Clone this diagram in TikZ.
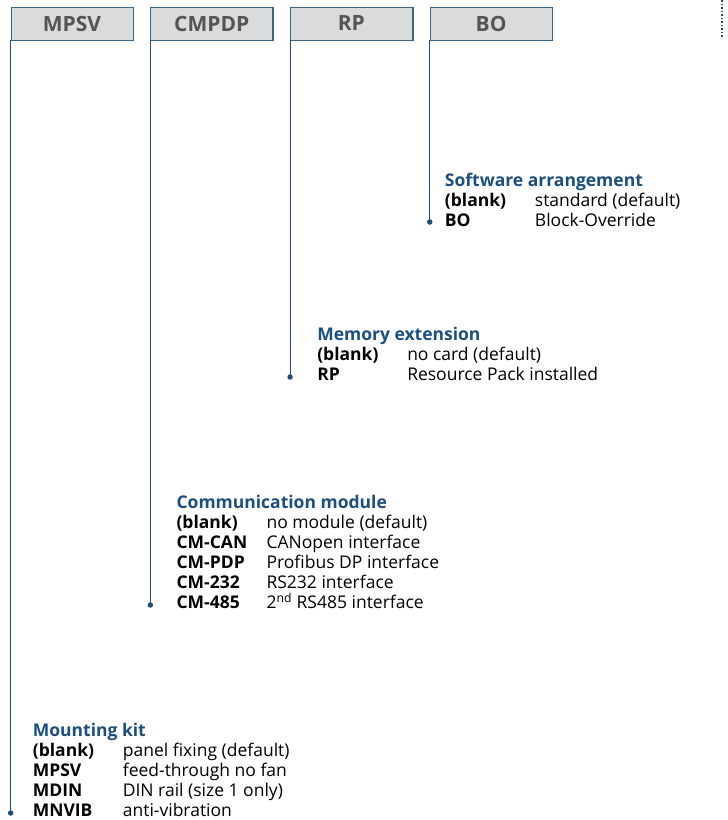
\documentclass[tikz,border=0pt]{standalone}
\usepackage{fontspec}
\setmainfont{Open Sans}
\usetikzlibrary{positioning}
\definecolor{lineblue}{HTML}{1F4E79}
\definecolor{edgeblue}{HTML}{3A6688}
\definecolor{headblue}{HTML}{1B4F7F}
\definecolor{boxgray}{HTML}{DADBDD}
\definecolor{textgray}{HTML}{555555}
\tikzstyle{codebox} = [rectangle, minimum width=122pt, minimum height=33pt, inner sep=0pt, text centered, draw=edgeblue, line width=0.7pt, fill=boxgray, text=textgray, font=\fontsize{21}{24}\selectfont\bfseries]
\tikzstyle{shade} = [draw=edgeblue, line width=1.6pt]
\tikzstyle{lead} = [draw=lineblue, line width=1.1pt]
\tikzstyle{enddot} = [circle, fill=lineblue, inner sep=0pt, minimum size=5.5pt]
\tikzstyle{options} = [anchor=north west, inner sep=0pt, align=left, font=\fontsize{17.5}{20}\selectfont]
\newcommand{\opthead}[1]{{\color{headblue}\bfseries #1}}
\newcommand{\optrow}[2]{\makebox[90pt][l]{\bfseries #1}#2}

\begin{document}
\begin{tikzpicture}[x=1pt,y=-1pt]
        \useasboundingbox (0,0) rectangle (728,820);
        %order code boxes
        \node (MPSV) [codebox] at (72,23.5) {MPSV};
        \node (CMPDP) [codebox, right=17pt of MPSV] {CMPDP};
        \node (RP) [codebox, right=17pt of CMPDP] {RP};
        \node (BO) [codebox, right=17pt of RP] {BO};
        %darker lower and right edges
        \draw [shade] (MPSV.north east) -- (MPSV.south east) -- (MPSV.south west);
        \draw [shade] (CMPDP.north east) -- (CMPDP.south east) -- (CMPDP.south west);
        \draw [shade] (RP.north east) -- (RP.south east) -- (RP.south west);
        \draw [shade] (BO.north east) -- (BO.south east) -- (BO.south west);
        %line ends
        \node (dotBO) [enddot] at (BO.west |- 0,222) {};
        \node (dotRP) [enddot] at (RP.west |- 0,377) {};
        \node (dotCMPDP) [enddot] at (CMPDP.west |- 0,605) {};
        \node (dotMPSV) [enddot] at (MPSV.west |- 0,813) {};
        %option lists
        \node (swList) [options] at ([xshift=15pt]dotBO.center |- 0,173) {\opthead{Software arrangement}\\
            \optrow{(blank)}{standard (default)}\\
            \optrow{BO}{Block-Override}};
        \node (memList) [options] at ([xshift=27pt]dotRP.center |- 0,327) {\opthead{Memory extension}\\
            \optrow{(blank)}{no card (default)}\\
            \optrow{RP}{Resource Pack installed}};
        \node (cmList) [options] at ([xshift=26pt]dotCMPDP.center |- 0,495) {\opthead{Communication module}\\
            \optrow{(blank)}{no module (default)}\\
            \optrow{CM-CAN}{CANopen interface}\\
            \optrow{CM-PDP}{Profibus DP interface}\\
            \optrow{CM-232}{RS232 interface}\\
            \optrow{CM-485}{2\textsuperscript{nd} RS485 interface}};
        \node (mkList) [options] at ([xshift=22pt]dotMPSV.center |- 0,723) {\opthead{Mounting kit}\\
            \optrow{(blank)}{panel fixing (default)}\\
            \optrow{MPSV}{feed-through no fan}\\
            \optrow{MDIN}{DIN rail (size 1 only)}\\
            \optrow{MNVIB}{anti-vibration}};
        %leads
        \draw [lead] (MPSV.south west) -- (dotMPSV.center);
        \draw [lead] (CMPDP.south west) -- (dotCMPDP.center);
        \draw [lead] (RP.south west) -- (dotRP.center);
        \draw [lead] (BO.south west) -- (dotBO.center);
        %dotted edge at the right
        \coordinate (edgeTop) at (722,0);
        \coordinate (edgeBot) at (722,38);
        \draw [lineblue, line width=1.5pt, dotted] (edgeTop) -- (edgeBot);
    \end{tikzpicture}
\end{document}
